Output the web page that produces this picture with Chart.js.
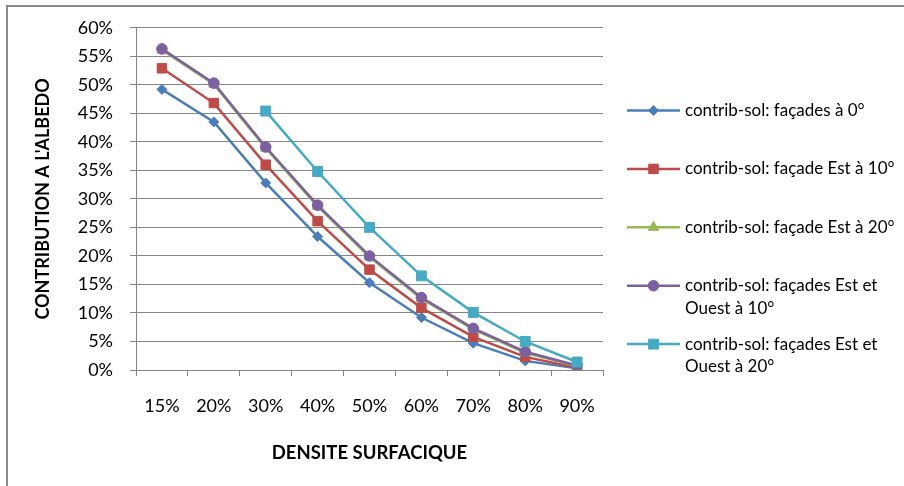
<!DOCTYPE html>
<html>
<head>
<meta charset="utf-8">
<title>Contribution a l'albedo</title>
<script src="https://cdn.jsdelivr.net/npm/chart.js@4/dist/chart.umd.min.js"></script>
<style>
  html, body { margin: 0; padding: 0; background: #fff; }
  canvas { display: block; }
</style>
</head>
<body>
<canvas id="albedoChart" width="904" height="486"></canvas>
<script>
// densite surfacique (x categories)
var categories = ["15%", "20%", "30%", "40%", "50%", "60%", "70%", "80%", "90%"];
var yTicks = [0, 5, 10, 15, 20, 25, 30, 35, 40, 45, 50, 55, 60];

// contribution a l'albedo, in %
var facades0 = [49.2, 43.5, 32.8, 23.4, 15.3, 9.2, 4.7, 1.6, 0.3];
var est10 = [52.9, 46.8, 36.0, 26.1, 17.6, 10.9, 5.8, 2.3, 0.4];
var est20 = [56.1, 50.1, 38.9, 28.7, 19.8, 12.5, 7.1, 3.0, 0.7];
var estOuest10 = [56.3, 50.3, 39.1, 28.9, 20.0, 12.7, 7.3, 3.2, 0.8];
var estOuest20 = [null, null, 45.4, 34.8, 25.0, 16.5, 10.1, 5.0, 1.4];

// legend names, split the way the original wraps them
var names = [
	["contrib-sol: façades à 0°"],
	["contrib-sol: façade Est à 10°"],
	["contrib-sol: façade Est à 20°"],
	["contrib-sol: façades Est et", "Ouest à 10°"],
	["contrib-sol: façades Est et", "Ouest à 20°"]
];

var FONT = "Lato";
var GRID = "#868686";

function series(idx, values, color, style, radius) {
	return {
		label: names[idx].join(" "),
		data: values,
		borderColor: color,
		backgroundColor: color,
		pointBackgroundColor: color,
		pointBorderColor: color,
		pointBorderWidth: 1,
		pointStyle: style,
		pointRadius: radius,
		borderWidth: 2.5,
		tension: 0,
		order: 5 - idx   // later series drawn on top, like Excel
	};
}

// outer frame of the chart object
var framePlugin = {
	id: "frame",
	beforeDraw: function (chart) {
		var ctx = chart.ctx;
		ctx.save();
		ctx.fillStyle = "#fff";
		ctx.fillRect(0, 0, chart.width, chart.height);
		ctx.strokeStyle = "#8c8c8c";
		ctx.lineWidth = 2;
		ctx.beginPath();
		ctx.moveTo(904, 6);
		ctx.lineTo(7, 6);
		ctx.lineTo(7, 486);
		ctx.stroke();
		ctx.restore();
	}
};

function drawMarker(ctx, style, x, y, r) {
	ctx.beginPath();
	if (style === "rectRot") {
		ctx.moveTo(x, y - r);
		ctx.lineTo(x + r, y);
		ctx.lineTo(x, y + r);
		ctx.lineTo(x - r, y);
		ctx.closePath();
	} else if (style === "rect") {
		var s = Math.SQRT1_2 * r;
		ctx.rect(x - s, y - s, 2 * s, 2 * s);
	} else if (style === "triangle") {
		ctx.moveTo(x, y - r);
		ctx.lineTo(x + r * 0.866, y + r * 0.5);
		ctx.lineTo(x - r * 0.866, y + r * 0.5);
		ctx.closePath();
	} else {
		ctx.arc(x, y, r, 0, Math.PI * 2);
	}
	ctx.fill();
	ctx.stroke();
}

// legend on the right, Excel style
var legendPlugin = {
	id: "sideLegend",
	afterDraw: function (chart) {
		var ctx = chart.ctx;
		var x0 = 627, x1 = 680, tx = 685;
		var top = 110.5, step = 58.4, lineH = 22.5;
		ctx.save();
		ctx.font = "17px " + FONT;
		ctx.textBaseline = "middle";
		ctx.textAlign = "left";
		chart.data.datasets.forEach(function (ds, i) {
			var y = top + i * step;
			ctx.strokeStyle = ds.borderColor;
			ctx.lineWidth = 2.5;
			ctx.beginPath();
			ctx.moveTo(x0, y);
			ctx.lineTo(x1, y);
			ctx.stroke();
			ctx.fillStyle = ds.pointBackgroundColor;
			ctx.lineWidth = 1;
			drawMarker(ctx, ds.pointStyle, (x0 + x1) / 2, y, ds.pointRadius);
			ctx.fillStyle = "#000";
			names[i].forEach(function (line, k) {
				ctx.fillText(line, tx, y + k * lineH);
			});
		});
		ctx.restore();
	}
};

var ctx = document.getElementById("albedoChart").getContext("2d");

new Chart(ctx, {
	type: "line",
	data: {
		labels: categories,
		datasets: [
			series(0, facades0, "#4A7EBB", "rectRot", 5),
			series(1, est10, "#BE4B48", "rect", 6.7),
			series(2, est20, "#98B954", "triangle", 6),
			series(3, estOuest10, "#7D60A0", "circle", 5.3),
			series(4, estOuest20, "#46AAC5", "rect", 7)
		]
	},
	options: {
		responsive: false,
		animation: false,
		devicePixelRatio: 1,
		layout: { padding: { left: 0, top: 25, right: 301, bottom: 0 } },
		plugins: {
			legend: { display: false },
			tooltip: { enabled: false }
		},
		scales: {
			x: {
				type: "category",
				offset: true,
				grid: {
					offset: true,
					drawOnChartArea: false,
					drawTicks: true,
					tickLength: 6,
					color: GRID,
					lineWidth: 1
				},
				border: { color: GRID, width: 1 },
				ticks: {
					color: "#000",
					font: { family: FONT, size: 18 },
					padding: 19,
					maxRotation: 0
				},
				title: {
					display: true,
					text: "DENSITE SURFACIQUE",
					color: "#000",
					font: { family: FONT, size: 18.5, weight: "bold" },
					padding: { top: 0, bottom: 22 }
				},
				afterFit: function (scale) { scale.height = 116; }
			},
			y: {
				min: 0,
				max: 60,
				afterBuildTicks: function (scale) {
					scale.ticks = yTicks.map(function (v) { return { value: v }; });
				},
				grid: {
					color: GRID,
					lineWidth: 1,
					drawTicks: true,
					tickLength: 6
				},
				border: { color: GRID, width: 1 },
				ticks: {
					color: "#000",
					font: { family: FONT, size: 18 },
					padding: 17,
					callback: function (v) { return v + "%"; }
				},
				title: {
					display: true,
					text: "CONTRIBUTION A L'ALBEDO",
					color: "#000",
					font: { family: FONT, size: 18, weight: "bold" },
					padding: { top: 32, bottom: 0 }
				},
				afterFit: function (scale) { scale.width = 136; }
			}
		}
	},
	plugins: [framePlugin, legendPlugin]
});
</script>
</body>
</html>
